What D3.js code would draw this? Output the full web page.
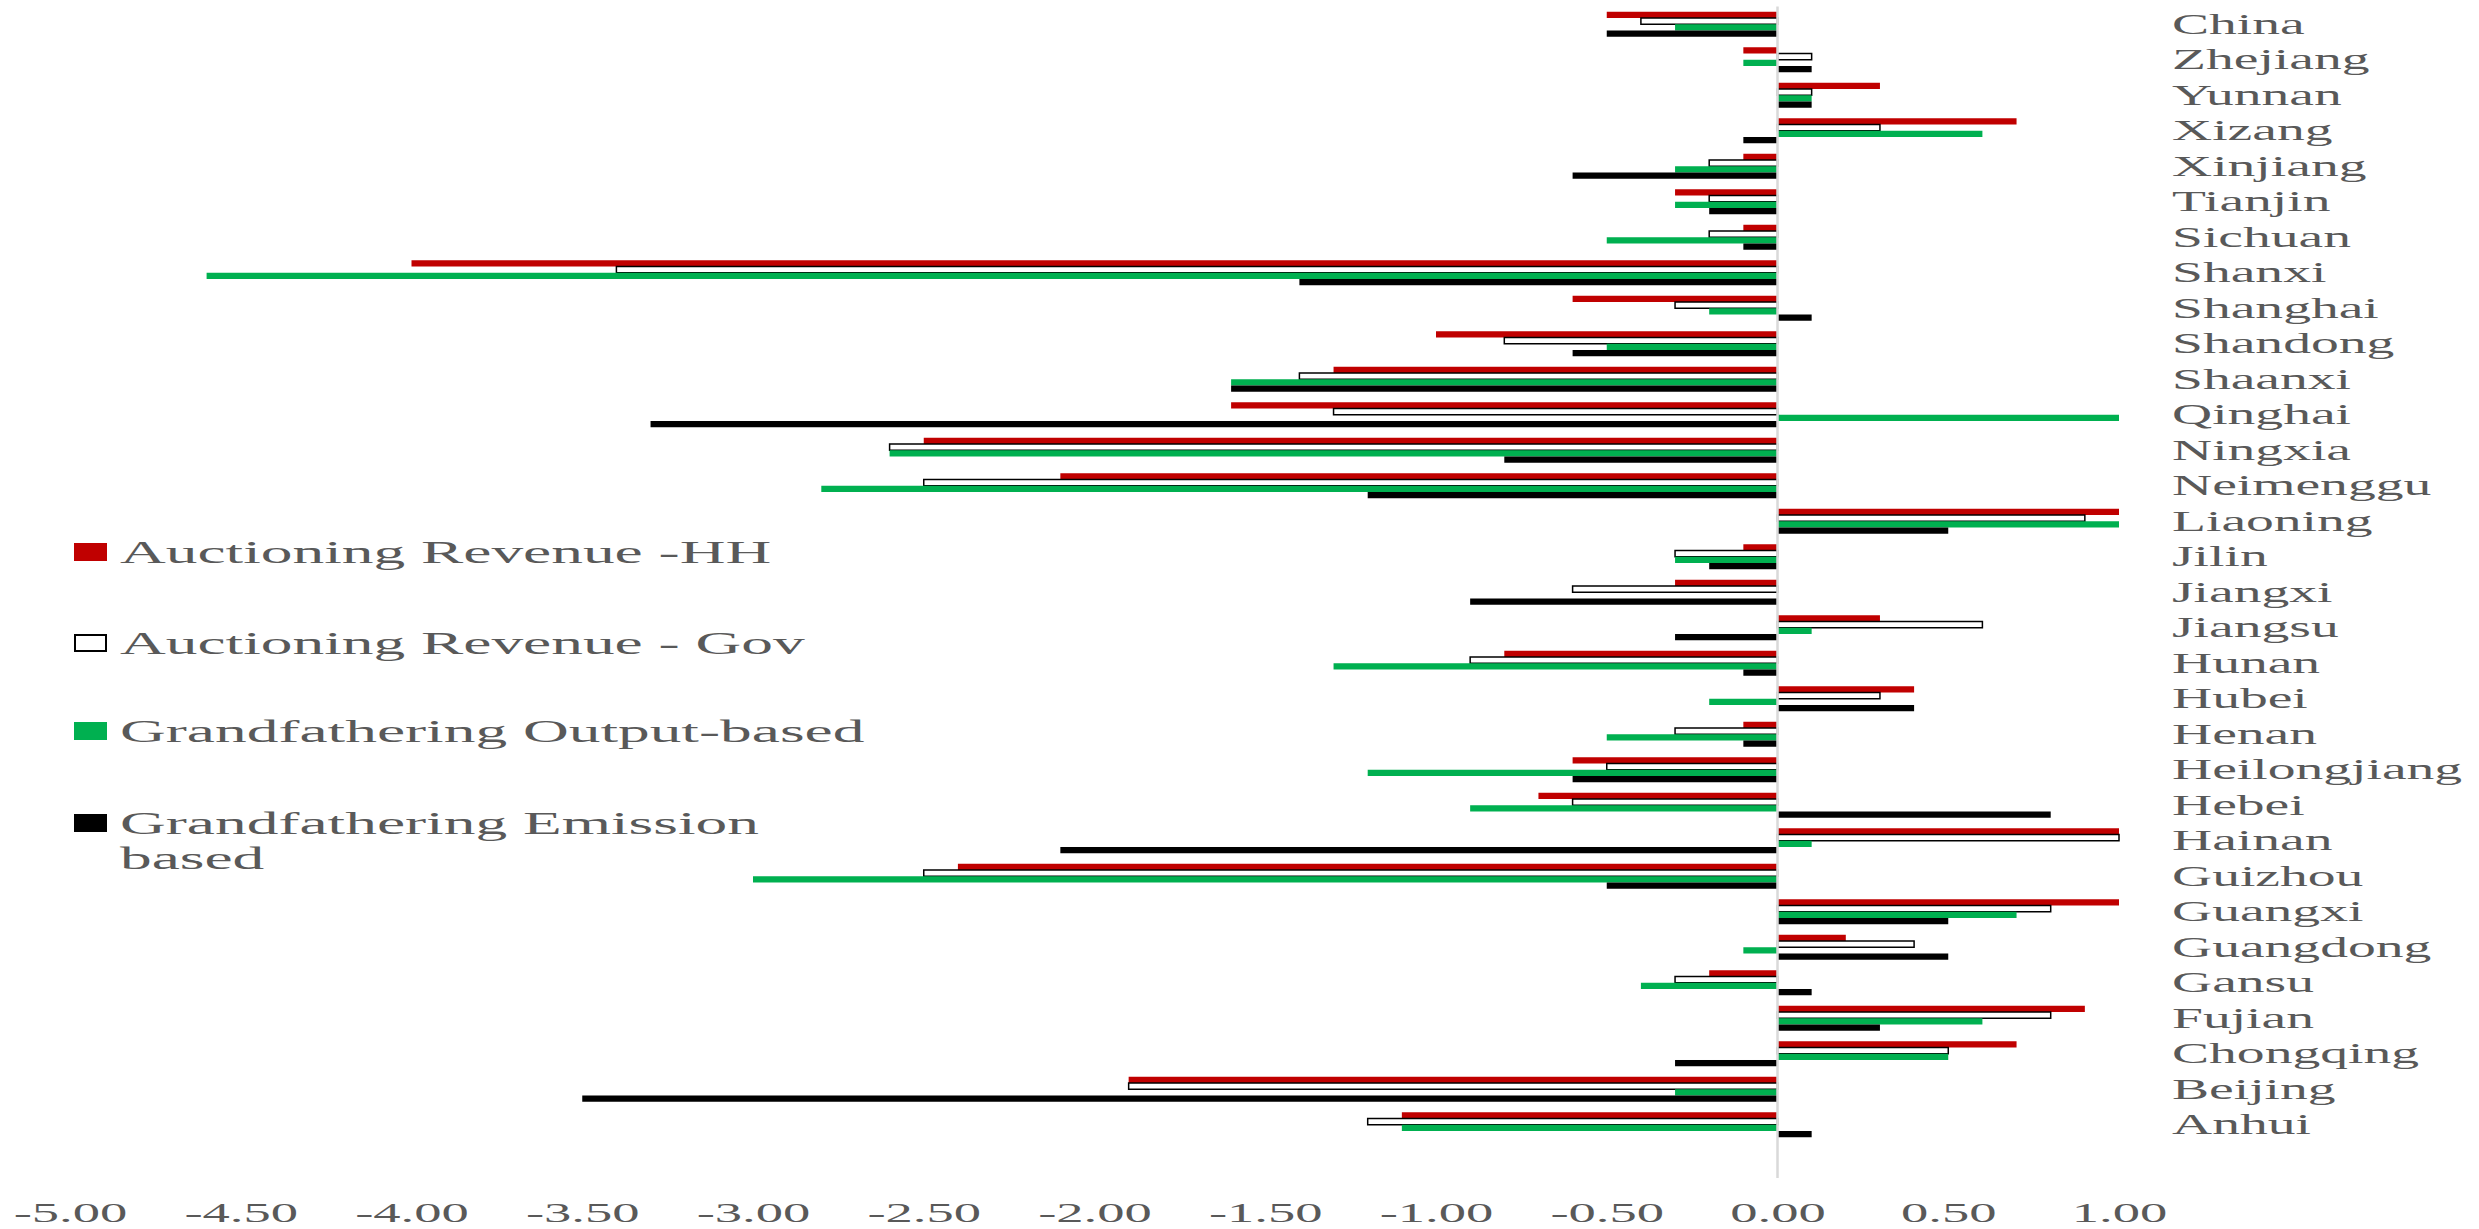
<!DOCTYPE html>
<html>
<head>
<meta charset="utf-8">
<script src="https://cdn.jsdelivr.net/npm/d3@7"></script>
<style>
  html, body { margin: 0; padding: 0; background: #ffffff; }
  svg { display: block; }
</style>
</head>
<body>
<svg id="chart" width="2479" height="1229"></svg>
<script>
// Provinces, top to bottom
const categories = ["China", "Zhejiang", "Yunnan", "Xizang", "Xinjiang", "Tianjin", "Sichuan",
  "Shanxi", "Shanghai", "Shandong", "Shaanxi", "Qinghai", "Ningxia", "Neimenggu", "Liaoning",
  "Jilin", "Jiangxi", "Jiangsu", "Hunan", "Hubei", "Henan", "Heilongjiang", "Hebei", "Hainan",
  "Guizhou", "Guangxi", "Guangdong", "Gansu", "Fujian", "Chongqing", "Beijing", "Anhui"];

const seriesNames = ["Auctioning Revenue -HH", "Auctioning Revenue - Gov",
  "Grandfathering Output-based", "Grandfathering Emission based"];

const auctionHH = [-0.5, -0.1, 0.3, 0.7, -0.1, -0.3, -0.1, -4.0, -0.6, -1.0, -1.3, -1.6, -2.5, -2.1, 1.0,
  -0.1, -0.3, 0.3, -0.8, 0.4, -0.1, -0.6, -0.7, 1.0, -2.4, 1.0, 0.2, -0.2, 0.9, 0.7, -1.9, -1.1];
const auctionGov = [-0.4, 0.1, 0.1, 0.3, -0.2, -0.2, -0.2, -3.4, -0.3, -0.8, -1.4, -1.3, -2.6, -2.5, 0.9,
  -0.3, -0.6, 0.6, -0.9, 0.3, -0.3, -0.5, -0.6, 1.0, -2.5, 0.8, 0.4, -0.3, 0.8, 0.5, -1.9, -1.2];
const grandOutput = [-0.3, -0.1, 0.1, 0.6, -0.3, -0.3, -0.5, -4.6, -0.2, -0.5, -1.6, 1.0, -2.6, -2.8, 1.0,
  -0.3, 0.0, 0.1, -1.3, -0.2, -0.5, -1.2, -0.9, 0.1, -3.0, 0.7, -0.1, -0.4, 0.6, 0.5, -0.3, -1.1];
const grandEmission = [-0.5, 0.1, 0.1, -0.1, -0.6, -0.2, -0.1, -1.4, 0.1, -0.6, -1.6, -3.3, -0.8, -1.2, 0.5,
  -0.2, -0.9, -0.3, -0.1, 0.4, -0.1, -0.6, 0.8, -2.1, -0.5, 0.5, 0.5, 0.1, 0.3, -0.3, -3.5, 0.1];

const tickValues = [-5, -4.5, -4, -3.5, -3, -2.5, -2, -1.5, -1, -0.5, 0, 0.5, 1];
const tickLabels = ["-5.00", "-4.50", "-4.00", "-3.50", "-3.00", "-2.50", "-2.00", "-1.50",
  "-1.00", "-0.50", "0.00", "0.50", "1.00"];

// Series styling
const seriesFill = ["#C00000", "#FFFFFF", "#00B050", "#000000"];
const seriesStroke = ["none", "#000000", "none", "none"];
const seriesValues = [auctionHH, auctionGov, grandOutput, grandEmission];

const textColor = "#595959";
const fontFamily = "'Liberation Serif', 'Times New Roman', serif";
const stretch = 1.95; // wide lettering used throughout the figure

const svg = d3.select("#chart");

const x = d3.scaleLinear().domain([-5, 1]).range([70, 2119]);

const y = d3.scaleBand()
  .domain(categories)
  .range([6.5, 1142.5])
  .paddingInner(0.296)
  .paddingOuter(0.148);

const ySeries = d3.scaleBand()
  .domain(d3.range(seriesNames.length))
  .range([0, y.bandwidth()]);

const plotTop = y.range()[0];
const plotBottom = y.range()[1] + y.step();

// Bars
const rows = categories.map((c, i) => ({ cat: c, vals: seriesValues.map(s => s[i]) }));

const groups = svg.append("g").attr("class", "bars")
  .selectAll("g")
  .data(rows)
  .join("g")
  .attr("transform", d => `translate(0,${y(d.cat)})`);

groups.selectAll("rect")
  .data(d => d.vals.map((v, k) => ({ v, k })))
  .join("rect")
  .attr("x", d => x(Math.min(0, d.v)))
  .attr("width", d => Math.abs(x(d.v) - x(0)))
  .attr("y", d => ySeries(d.k))
  .attr("height", ySeries.bandwidth())
  .attr("fill", d => seriesFill[d.k])
  .attr("stroke", d => seriesStroke[d.k])
  .attr("stroke-width", 1.5)
  .attr("display", d => d.v === 0 ? "none" : null);

// Vertical zero line (category axis)
svg.append("line")
  .attr("x1", x(0)).attr("x2", x(0))
  .attr("y1", plotTop).attr("y2", plotBottom)
  .attr("stroke", "#d9d9d9")
  .attr("stroke-width", 2.5);

// Value axis labels
const xAxis = svg.append("g")
  .attr("transform", `translate(0,${plotBottom})`)
  .call(d3.axisBottom(x).tickValues(tickValues).tickSize(0)
    .tickFormat((d, i) => tickLabels[i]));
xAxis.select(".domain").remove();
xAxis.selectAll("text")
  .attr("y", 44)
  .attr("dy", 0)
  .attr("transform", `scale(${stretch},1)`)
  .attr("fill", textColor)
  .style("font-family", fontFamily)
  .style("font-size", "28px");

// Province labels on the right
const yAxis = svg.append("g")
  .attr("transform", `translate(2172,0)`)
  .call(d3.axisRight(y).tickSize(0).tickPadding(0));
yAxis.select(".domain").remove();
yAxis.selectAll("text")
  .attr("x", 0)
  .attr("dy", "0.34em")
  .attr("transform", `scale(${stretch},1)`)
  .attr("text-anchor", "start")
  .attr("fill", textColor)
  .style("font-family", fontFamily)
  .style("font-size", "28.5px");

// Legend
const legendLines = [["Auctioning Revenue -HH"], ["Auctioning Revenue - Gov"],
  ["Grandfathering Output-based"], ["Grandfathering Emission", "based"]];
const legendRowY = [552, 643, 731, 823];

const legend = svg.append("g").attr("class", "legend");
const items = legend.selectAll("g")
  .data(seriesNames.map((n, k) => ({ n, k })))
  .join("g")
  .attr("transform", d => `translate(0,${legendRowY[d.k]})`);

items.append("rect")
  .attr("x", 74)
  .attr("y", -9)
  .attr("width", d => seriesStroke[d.k] === "none" ? 33 : 31)
  .attr("height", d => seriesStroke[d.k] === "none" ? 18 : 16)
  .attr("transform", d => seriesStroke[d.k] === "none" ? null : "translate(1,1)")
  .attr("fill", d => seriesFill[d.k])
  .attr("stroke", d => seriesStroke[d.k])
  .attr("stroke-width", 2);

const lt = items.append("text")
  .attr("transform", `translate(120,0) scale(${stretch},1)`)
  .attr("fill", textColor)
  .style("font-family", fontFamily)
  .style("font-size", "32.5px");

lt.selectAll("tspan")
  .data(d => legendLines[d.k].map((t, j) => ({ t, j })))
  .join("tspan")
  .attr("x", 0)
  .attr("y", d => 11 + d.j * 35)
  .text(d => d.t);
</script>
</body>
</html>
